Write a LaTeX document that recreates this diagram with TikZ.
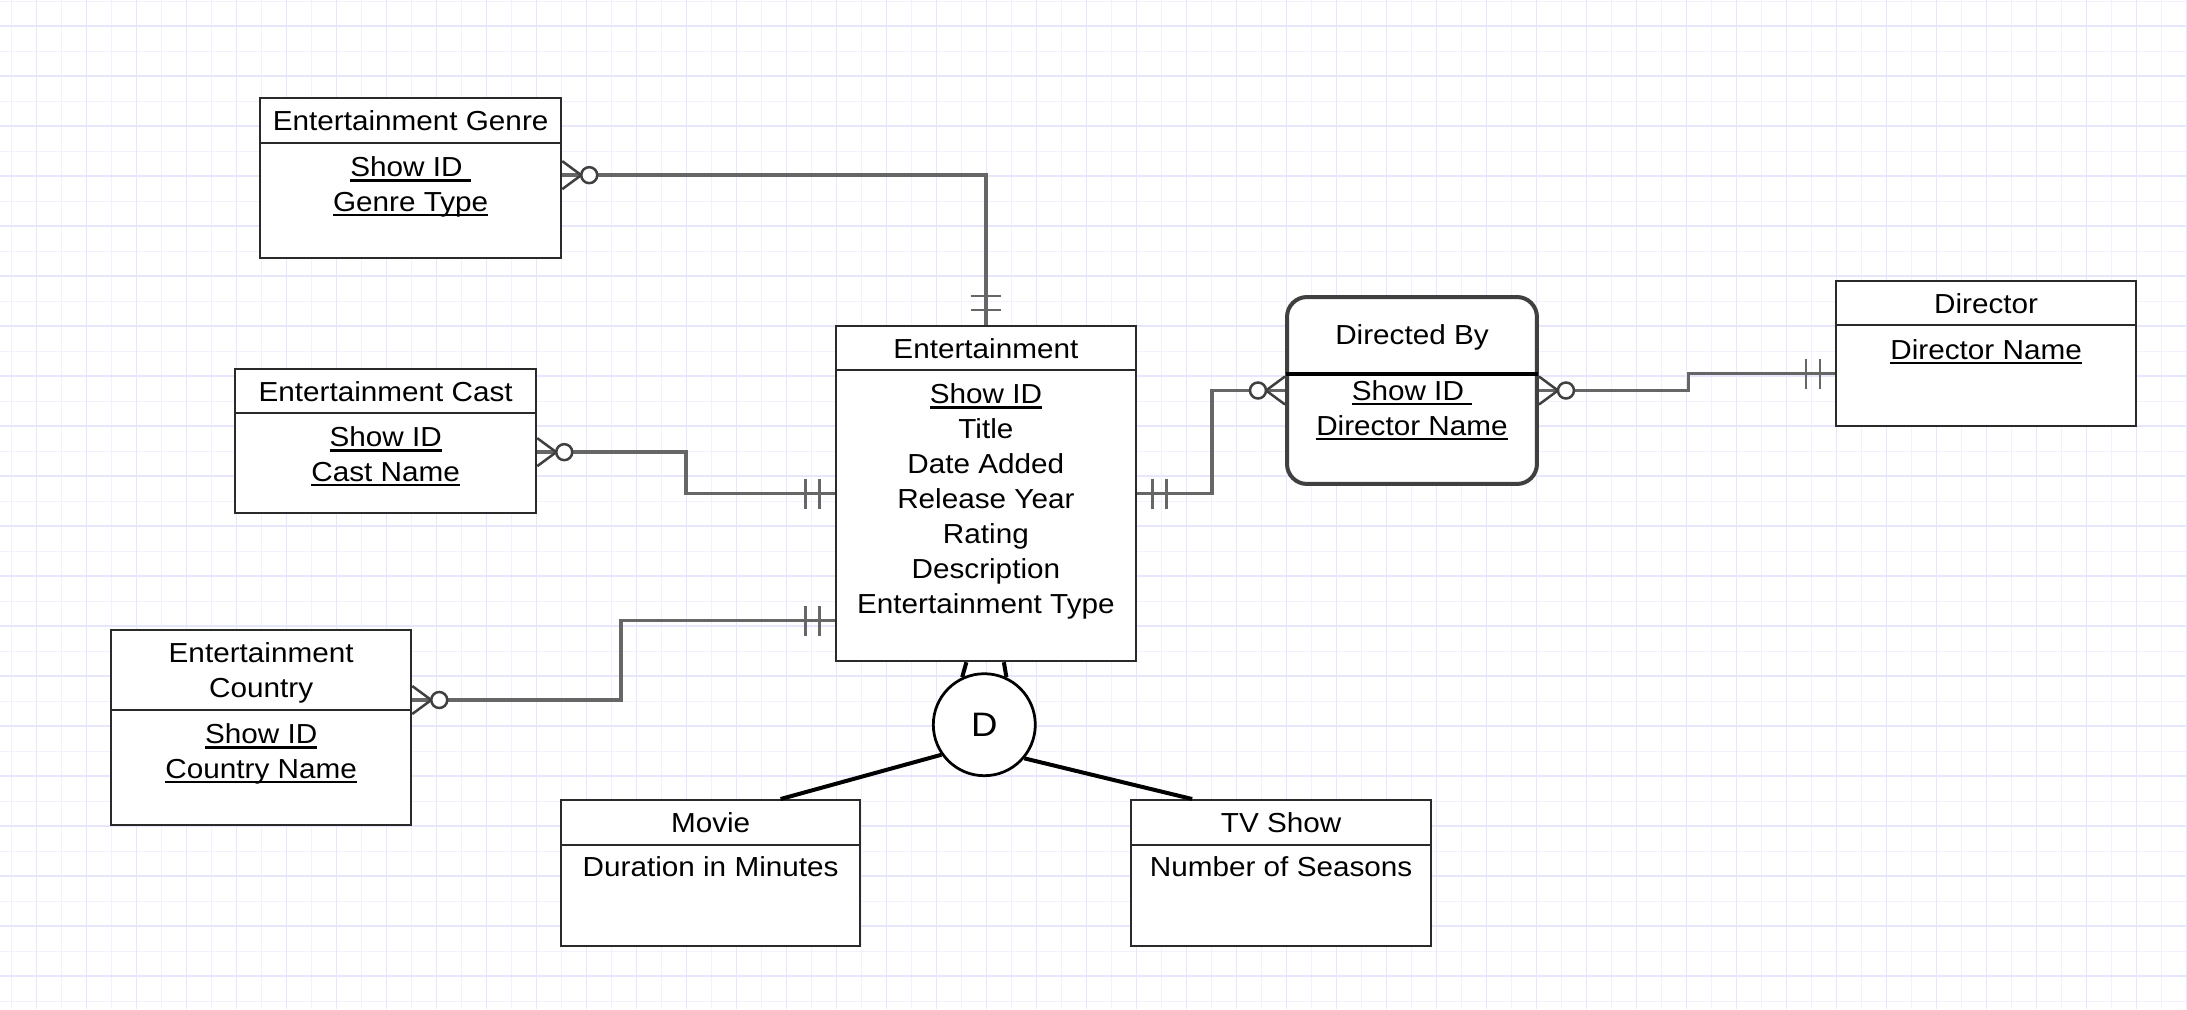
\documentclass[tikz,border=0pt]{standalone}
\usepackage{fontspec}
\setmainfont{Liberation Sans}[FakeStretch=1.08]
\usetikzlibrary{positioning, calc}
\definecolor{GridMinor}{HTML}{F1F1FF}
\definecolor{GridMajor}{HTML}{E6E6FC}
\definecolor{BoxLine}{HTML}{2A2A2A}
\definecolor{LinkGray}{HTML}{666666}
\definecolor{FootGray}{HTML}{404040}
\newsavebox\keybox
\newcommand\keyattr[1]{\sbox\keybox{#1}\rlap{\rule[-0.18em]{\wd\keybox}{0.09em}}\usebox\keybox}
\tikzset{
  % Box styles
  entbox/.style={rectangle, draw=BoxLine, line width=0.046cm, fill=white, inner sep=0pt, anchor=north west},
  headbox/.style={rectangle, draw=BoxLine, line width=0.046cm, inner sep=0pt, anchor=north, text depth=0pt, align=center},
  attrtext/.style={inner sep=0pt, anchor=north, align=center, execute at begin node=\strut},
  assocbox/.style={entbox, draw=FootGray, line width=0.08cm, rounded corners=0.4cm},
  disjoint/.style={circle, draw=black, line width=0.055cm, fill=white, minimum size=2.04cm, inner sep=0pt, font=\fontsize{19.3}{22}\selectfont},
  % Line styles
  gridminor/.style={draw=GridMinor, line width=0.02cm},
  gridmajor/.style={draw=GridMajor, line width=0.03cm},
  relline/.style={draw=LinkGray, line width=0.07cm},
  isaline/.style={draw=black, line width=0.08cm},
  footline/.style={draw=FootGray, line width=0.05cm},
  onebar/.style={draw=LinkGray, line width=0.055cm},
  % Crow's foot ends
  zeromany/.pic={
    \draw[footline] (0,-14) -- (19,0) -- (0,14);
    \draw[footline, fill=white] (27,0) circle (8);
  },
  onlyone/.pic={
    \draw[onebar] (15,-15) -- (15,15);
    \draw[onebar] (29,-15) -- (29,15);
  }
}
\begin{document}
\begin{tikzpicture}[x=0.02cm, y=-0.02cm, font=\fontsize{15.65}{19.9}\selectfont]
  \useasboundingbox (0,0) rectangle (2187,1009);
  % Grid
  \fill[white] (0,0) rectangle (2187,1009);
  \foreach \gx in {11.7,36.7,...,2187} \draw[gridminor] (\gx,0) -- (\gx,1009);
  \foreach \gy in {1,26,...,1009} \draw[gridminor] (0,\gy) -- (2187,\gy);
  \foreach \gx in {36.7,86.7,...,2187} \draw[gridmajor] (\gx,0) -- (\gx,1009);
  \foreach \gy in {26,76,...,1009} \draw[gridmajor] (0,\gy) -- (2187,\gy);

  % Entertainment
  \node[entbox, minimum width=6.01cm, minimum height=6.7cm] (ent) at (834.5,325) {};
  \node[headbox, minimum width=6.01cm, minimum height=0.88cm] (enthead) at (ent.north) {Entertainment};
  \node[attrtext, below=0.24cm of enthead] (entattr) {\keyattr{Show ID}\\Title\\Date Added\\Release Year\\Rating\\Description\\Entertainment Type};

  % Multi-valued attributes
  \node[entbox, minimum width=6.02cm, minimum height=3.2cm] (genre) at (259,97) {};
  \node[headbox, minimum width=6.02cm, minimum height=0.9cm] (genrehead) at (genre.north) {Entertainment Genre};
  \node[attrtext, below=0.24cm of genrehead] (genreattr) {\keyattr{Show ID\ }\\\keyattr{Genre Type}};

  \node[entbox, minimum width=6.02cm, minimum height=2.88cm] (cast) at (234,368) {};
  \node[headbox, minimum width=6.02cm, minimum height=0.88cm] (casthead) at (cast.north) {Entertainment Cast};
  \node[attrtext, below=0.24cm of casthead] (castattr) {\keyattr{Show ID}\\\keyattr{Cast Name}};

  \node[entbox, minimum width=6cm, minimum height=3.9cm] (country) at (110,629) {};
  \node[headbox, minimum width=6cm, minimum height=1.6cm] (countryhead) at (country.north) {Entertainment\\Country};
  \node[attrtext, below=0.24cm of countryhead] (countryattr) {\keyattr{Show ID}\\\keyattr{Country Name}};

  % Director
  \node[assocbox, minimum width=5cm, minimum height=3.74cm] (dirby) at (1285,295) {};
  \node[headbox, draw=none, minimum width=5cm, minimum height=1.53cm] (dirbyhead) at (dirby.north) {Directed By};
  \draw[draw=black, line width=0.08cm] (dirbyhead.south west) -- (dirbyhead.south east);
  \node[attrtext, below=0.12cm of dirbyhead] (dirbyattr) {\keyattr{Show ID\ }\\\keyattr{Director Name}};

  \node[entbox, minimum width=6cm, minimum height=2.9cm] (director) at (1835,280) {};
  \node[headbox, minimum width=6cm, minimum height=0.88cm] (directorhead) at (director.north) {Director};
  \node[attrtext, below=0.16cm of directorhead] (directorattr) {\keyattr{Director Name}};

  % Subtypes
  \node[entbox, minimum width=5.98cm, minimum height=2.92cm] (movie) at (560,799) {};
  \node[headbox, minimum width=5.98cm, minimum height=0.9cm] (moviehead) at (movie.north) {Movie};
  \node[attrtext, below=0.11cm of moviehead] (movieattr) {Duration in Minutes};

  \node[entbox, minimum width=6cm, minimum height=2.92cm] (tv) at (1130,799) {};
  \node[headbox, minimum width=6cm, minimum height=0.9cm] (tvhead) at (tv.north) {TV Show};
  \node[attrtext, below=0.11cm of tvhead] (tvattr) {Number of Seasons};

  \node[disjoint] (dis) at (984.3,724.7) {D};

  % Specialisation lines
  \draw[isaline] ($(ent.south)+(-19.5,0)$) -- (dis.115);
  \draw[isaline] ($(ent.south)+(18,0)$) -- (dis.65);
  \draw[isaline] (dis.215) -- ($(movie.north)+(70,0)$);
  \draw[isaline] (dis.320) -- ($(tv.north)+(-89,0)$);

  % Relationships
  \draw[relline] ($(genre.east)+(0,-3)$) -| (ent.north);
  \draw[relline] ($(cast.east)+(0,11)$) -- ++(149,0) |- (ent.west);
  \draw[relline] ($(country.north east)+(0,71)$) -- ++(209,0) |- ($(ent.west)+(0,127)$);
  \draw[relline] (ent.east) -- ++(74.5,0) |- (dirby.west);
  \draw[relline] (dirby.east) -- ++(149.4,0) |- ($(director.west)+(0,20)$);

  % Cardinality ends
  \pic at ($(genre.east)+(0,-3)$) {zeromany};
  \pic[rotate=90] at (ent.north) {onlyone};
  \pic at ($(cast.east)+(0,11)$) {zeromany};
  \pic[rotate=180] at (ent.west) {onlyone};
  \pic at ($(country.north east)+(0,71)$) {zeromany};
  \pic[rotate=180] at ($(ent.west)+(0,127)$) {onlyone};
  \pic at (ent.east) {onlyone};
  \pic[rotate=180] at (dirby.west) {zeromany};
  \pic at (dirby.east) {zeromany};
  \pic[rotate=180] at ($(director.west)+(0,20)$) {onlyone};
\end{tikzpicture}
\end{document}
